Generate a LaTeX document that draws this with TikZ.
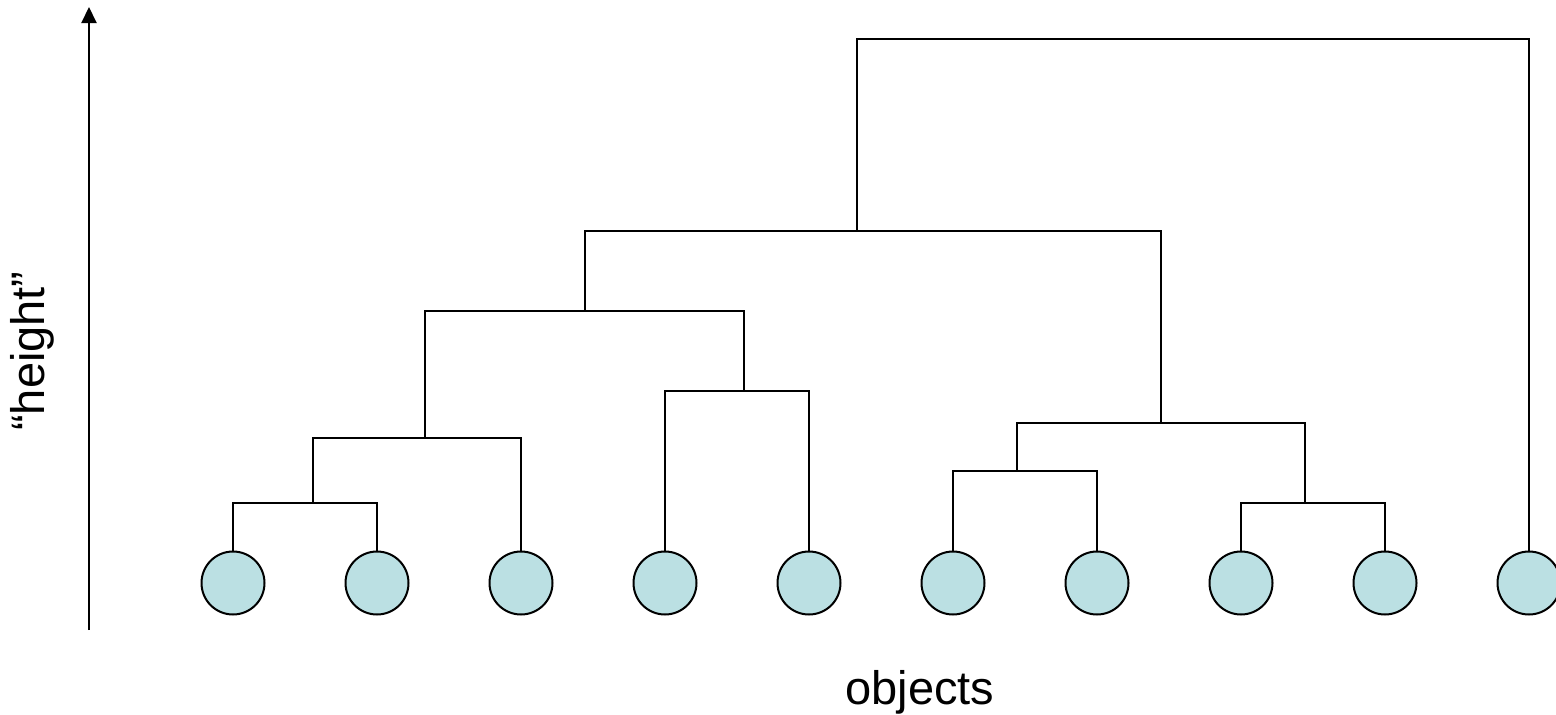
\documentclass[tikz,border=0pt]{standalone}
\usepackage{fontspec}
\setmainfont{Liberation Sans}
\usetikzlibrary{arrows.meta}
\definecolor{leafblue}{RGB}{187,224,227}
\begin{document}
\begin{tikzpicture}[x=1pt,y=-1pt,
  leaf/.style={circle,draw=black,fill=leafblue,line width=2pt,minimum size=63pt,inner sep=0pt},
  link/.style={line width=2pt,line join=miter},
  lbl/.style={font=\fontsize{47}{56}\selectfont,inner sep=0pt}]
\clip (0,0) rectangle (1556,715);
\useasboundingbox (0,0) rectangle (1556,715);
% leaves
\foreach \i/\x in {1/233,2/377,3/521,4/665,5/809,6/953,7/1097,8/1241,9/1385,10/1529}
  \node[leaf] (l\i) at (\x,583) {};
% merge points
\coordinate (a) at (313,503);
\coordinate (b) at (425,438);
\coordinate (c) at (744,391);
\coordinate (d) at (585,311);
\coordinate (e) at (1017,471);
\coordinate (f) at (1305,503);
\coordinate (g) at (1161,423);
\coordinate (h) at (857,231);
\coordinate (t) at (1529,39);
% dendrogram
\draw[link] (l1.north) |- (a) -| (l2.north);
\draw[link] (a) |- (b) -| (l3.north);
\draw[link] (l4.north) |- (c) -| (l5.north);
\draw[link] (b) |- (d) -| (c);
\draw[link] (l6.north) |- (e) -| (l7.north);
\draw[link] (l8.north) |- (f) -| (l9.north);
\draw[link] (e) |- (g) -| (f);
\draw[link] (d) |- (h) -| (g);
\draw[link] (h) |- (t) -- (l10.north);
% axis
\coordinate (axb) at (89,630);
\coordinate (axt) at (89,7);
\draw[line width=2pt,-{Triangle[length=16pt,width=15pt]}] (axb) -- (axt);
% labels
\node[lbl,rotate=90] (ylab) at (32,351) {“height”};
\node[lbl,anchor=base] (xlab) at (920,704) {objects};
\end{tikzpicture}
\end{document}
